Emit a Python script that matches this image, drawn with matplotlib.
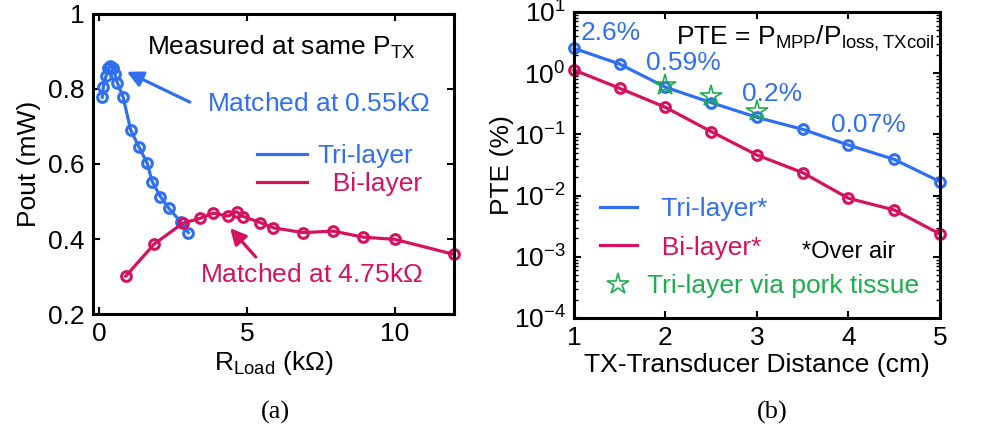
import numpy as np
import matplotlib
matplotlib.use('Agg')
import matplotlib.pyplot as plt
from matplotlib.lines import Line2D

plt.rcParams['font.family'] = ['Liberation Sans', 'DejaVu Sans']
plt.rcParams['mathtext.fontset'] = 'custom'
plt.rcParams['mathtext.rm'] = 'Liberation Sans'

BLUE = '#3070F0'
RED = '#D5125E'
GREEN = '#1DAF4E'

# (a) output power vs load
tri_r = [0.11, 0.15, 0.24, 0.32, 0.39, 0.46, 0.54, 0.62, 0.82, 1.07, 1.35, 1.63, 1.8, 2.08, 2.36, 2.76, 3.02]
tri_p = [0.778, 0.806, 0.835, 0.855, 0.861, 0.855, 0.84, 0.817, 0.778, 0.691, 0.646, 0.602, 0.553, 0.513, 0.482, 0.446, 0.417]
bi_r = [0.91, 1.86, 2.83, 3.41, 3.86, 4.37, 4.65, 4.88, 5.44, 5.89, 6.9, 7.92, 8.93, 10.0, 12.0]
bi_p = [0.301, 0.386, 0.442, 0.455, 0.469, 0.461, 0.473, 0.46, 0.444, 0.43, 0.417, 0.421, 0.405, 0.399, 0.359]

# (b) PTE vs distance
dist = [1, 1.5, 2, 2.5, 3, 3.5, 4, 4.5, 5]
tri_pte = [2.55, 1.41, 0.59, 0.33, 0.19, 0.121, 0.067, 0.039, 0.0169]
bi_pte = [1.13, 0.566, 0.277, 0.111, 0.046, 0.0237, 0.00904, 0.00582, 0.00236]
pork_d = [2, 2.5, 3]
pork_pte = [0.64, 0.42, 0.24]
pte_notes = ['2.6%', '0.59%', '0.2%', '0.07%']
note_pos = [(1.4, 4.6), (2.2, 1.45), (3.16, 0.45), (4.22, 0.145)]

fig = plt.figure(figsize=(9.97, 4.33), dpi=100)
ax1 = fig.add_axes([0.0933, 0.2748, 0.3621, 0.6929])
ax2 = fig.add_axes([0.5757, 0.2656, 0.3671, 0.7067])

fs = 19
mk = dict(marker='o', markersize=7, markerfacecolor='none', markeredgewidth=2.2, linewidth=2.3, clip_on=False)

ax1.plot(tri_r, tri_p, color=BLUE, markeredgecolor=BLUE, **mk)
ax1.plot(bi_r, bi_p, color=RED, markeredgecolor=RED, **mk)
ax1.set_xlim(-0.2, 12)
ax1.set_ylim(0.2, 1)
ax1.set_xticks([0, 5, 10])
ax1.set_yticks([0.2, 0.4, 0.6, 0.8, 1])
ax1.set_yticklabels(['0.2', '0.4', '0.6', '0.8', '1'])
ax1.set_xlabel(r'R$_{\mathrm{Load}}$ (k$\Omega$)', fontsize=fs, labelpad=2)
ax1.set_ylabel('Pout (mW)', fontsize=fs, labelpad=5)

ax1.text(1.62, 0.912, r'Measured at same P$_{\mathrm{TX}}$', fontsize=fs, ha='left', va='center')
ax1.text(3.65, 0.76, r'Matched at 0.55k$\Omega$', fontsize=fs, color=BLUE, ha='left', va='center')
ax1.annotate('', xy=(0.94, 0.846), xytext=(3.07, 0.765),
             arrowprops=dict(arrowstyle='-|>', color=BLUE, lw=2.3, mutation_scale=24, shrinkA=0, shrinkB=0))
ax1.text(3.41, 0.304, r'Matched at 4.75k$\Omega$', fontsize=fs, color=RED, ha='left', va='center')
ax1.annotate('', xy=(4.43, 0.429), xytext=(5.3, 0.352),
             arrowprops=dict(arrowstyle='-|>', color=RED, lw=2.3, mutation_scale=24, shrinkA=0, shrinkB=0))

h1 = [Line2D([], [], color=BLUE, lw=2.3), Line2D([], [], color=RED, lw=2.3)]
ax1.legend(h1, ['Tri-layer', '  Bi-layer'], loc='upper left', bbox_to_anchor=(0.454, 0.565),
           frameon=False, fontsize=fs, handlelength=1.9, handletextpad=0.4, labelspacing=0.15,
           labelcolor=[BLUE, RED], borderaxespad=0, borderpad=0)

ax2.semilogy(dist, tri_pte, color=BLUE, markeredgecolor=BLUE, **mk)
ax2.semilogy(dist, bi_pte, color=RED, markeredgecolor=RED, **mk)
ax2.plot(pork_d, pork_pte, linestyle='none', marker='*', markersize=16, markerfacecolor='none',
         markeredgecolor=GREEN, markeredgewidth=1.2, zorder=5)
ax2.set_xlim(1, 5)
ax2.set_ylim(1e-4, 10)
ax2.set_xticks([1, 2, 3, 4, 5])
ax2.set_yticks([1e-4, 1e-3, 1e-2, 1e-1, 1, 10])
ax2.set_xlabel('TX-Transducer Distance (cm)', fontsize=fs, labelpad=2)
ax2.set_ylabel('PTE (%)', fontsize=fs, labelpad=0)
for t, (x, y) in zip(pte_notes, note_pos):
    ax2.text(x, y, t, fontsize=fs, color=BLUE, ha='center', va='center')
ax2.text(0.985, 0.915, r'PTE = P$_{\mathrm{MPP}}$/P$_{\mathrm{loss,TXcoil}}$', transform=ax2.transAxes,
         fontsize=fs, ha='right', va='center')
ax2.text(0.623, 0.215, '*Over air', transform=ax2.transAxes, fontsize=17, ha='left', va='center')

h2 = [Line2D([], [], color=BLUE, lw=2.3), Line2D([], [], color=RED, lw=2.3),
      Line2D([], [], linestyle='none', marker='*', markersize=16, markerfacecolor='none',
             markeredgecolor=GREEN, markeredgewidth=1.2)]
ax2.legend(h2, ['  Tri-layer*', '  Bi-layer*', 'Tri-layer via pork tissue'], loc='upper left',
           bbox_to_anchor=(0.071, 0.395), frameon=False, fontsize=fs, handlelength=1.4,
           handletextpad=0.4, labelspacing=0.55, labelcolor=[BLUE, RED, GREEN], borderaxespad=0,
           borderpad=0)

for ax in (ax1, ax2):
    ax.tick_params(direction='in', top=True, right=True, labelsize=fs, width=1.5, length=5, pad=6)
    ax.tick_params(which='minor', direction='in', top=True, right=True, width=1, length=3)
    for s in ax.spines.values():
        s.set_linewidth(2.2)
ax2.tick_params(axis='x', which='minor', top=False, bottom=False)

fig.text(0.276, 0.048, '(a)', fontsize=19, family='Liberation Serif', ha='center', va='center')
fig.text(0.775, 0.048, '(b)', fontsize=19, family='Liberation Serif', ha='center', va='center')

fig.savefig('out.png', dpi=100)
